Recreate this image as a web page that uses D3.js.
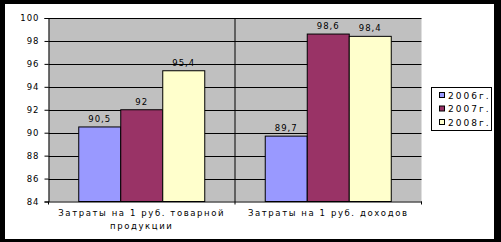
<!DOCTYPE html>
<html>
<head>
<meta charset="utf-8">
<script src="https://cdn.jsdelivr.net/npm/d3@7"></script>
<style>
  body { margin: 0; background: #000; }
  svg text { font-family: 'DejaVu Sans', sans-serif; font-size: 8.5px; letter-spacing: 1px; fill: #000; }
  svg .cat-label { letter-spacing: 1.6px; }
  svg .legend-label { font-size: 9px; letter-spacing: 2px; }
</style>
</head>
<body>
<svg id="chart" width="501" height="242"></svg>
<script>
const categories = ['Затраты на 1 руб. товарной продукции', 'Затраты на 1 руб. доходов']
const years = ['2006г.', '2007г.', '2008г.']
const values2006 = [90.5, 89.7]
const values2007 = [92, 98.6]
const values2008 = [95.4, 98.4]
const yTicks = [84, 86, 88, 90, 92, 94, 96, 98, 100]
const colors = ['#9999FF', '#993366', '#FFFFCC']

const series = [values2006, values2007, values2008]

const svg = d3.select('#chart')

// white chart area over the black frame
svg.append('rect')
  .attr('x', 5)
  .attr('y', 4)
  .attr('width', 489)
  .attr('height', 235)
  .attr('fill', '#fff')

const plot = { left: 48.5, right: 421.5, top: 18, bottom: 201.5 }

const x0 = d3.scaleBand()
  .domain(categories)
  .range([plot.left, plot.right])

const x1 = d3.scaleBand()
  .domain(years)
  .range([0, x0.bandwidth()])
  .paddingInner(0)
  .paddingOuter(0.72)

const y = d3.scaleLinear()
  .domain([84, 100])
  .range([plot.bottom, plot.top])

// plot background
svg.append('rect')
  .attr('x', plot.left)
  .attr('y', plot.top)
  .attr('width', plot.right - plot.left)
  .attr('height', plot.bottom - plot.top)
  .attr('fill', '#C0C0C0')

// horizontal gridlines
svg.append('g')
  .selectAll('line')
  .data(yTicks.slice(1))
  .join('line')
  .attr('x1', plot.left)
  .attr('x2', plot.right)
  .attr('y1', (d) => Math.round(y(d)) + 0.5)
  .attr('y2', (d) => Math.round(y(d)) + 0.5)
  .attr('stroke', '#000')

// vertical separators between categories
svg.append('g')
  .selectAll('line')
  .data(categories.slice(1))
  .join('line')
  .attr('x1', (d) => x0(d))
  .attr('x2', (d) => x0(d))
  .attr('y1', plot.top)
  .attr('y2', plot.bottom + 3)
  .attr('stroke', '#000')

// bars
const groups = svg.append('g')
  .selectAll('g')
  .data(categories)
  .join('g')
  .attr('transform', (d) => `translate(${x0(d)},0)`)

groups.selectAll('rect')
  .data((d, i) => years.map((yr, j) => ({ year: yr, value: series[j][i], color: colors[j] })))
  .join('rect')
  .attr('x', (d) => x1(d.year))
  .attr('y', (d) => y(d.value))
  .attr('width', x1.bandwidth())
  .attr('height', (d) => plot.bottom - y(d.value))
  .attr('fill', (d) => d.color)
  .attr('stroke', '#000')
  .attr('stroke-width', 1)

groups.selectAll('text')
  .data((d, i) => years.map((yr, j) => ({ year: yr, value: series[j][i] })))
  .join('text')
  .attr('x', (d) => x1(d.year) + x1.bandwidth() / 2)
  .attr('y', (d) => y(d.value) - 5)
  .attr('text-anchor', 'middle')
  .text((d) => String(d.value).replace('.', ','))

// y axis
const yAxis = svg.append('g')
  .attr('transform', `translate(${plot.left},0)`)
  .call(d3.axisLeft(y).tickValues(yTicks).tickSize(4).tickPadding(5))
yAxis.select('.domain').attr('stroke', '#000')
yAxis.selectAll('.tick line').attr('stroke', '#000')
yAxis.selectAll('text').attr('font-family', null).attr('font-size', null)

// x axis
const xAxis = svg.append('g')
  .attr('transform', `translate(0,${plot.bottom})`)
  .call(d3.axisBottom(x0).tickSize(0).tickPadding(0))
xAxis.select('.domain').attr('stroke', '#000')
xAxis.selectAll('text').attr('font-family', null).attr('font-size', null)
  .attr('class', 'cat-label')
  .attr('dy', null)
  .attr('y', 14.5)
  .call(wrap, 180)

// boundary ticks on category axis
svg.append('g')
  .selectAll('line')
  .data([plot.left, plot.right])
  .join('line')
  .attr('x1', (d) => d)
  .attr('x2', (d) => d)
  .attr('y1', plot.bottom)
  .attr('y2', plot.bottom + 3)
  .attr('stroke', '#000')

function wrap (text, width) {
  text.each(function () {
    const t = d3.select(this)
    const words = t.text().split(/\s+/)
    const yPos = t.attr('y')
    let line = []
    let lineNumber = 0
    let tspan = t.text(null).append('tspan').attr('x', 0).attr('y', yPos)
    for (const word of words) {
      line.push(word)
      tspan.text(line.join(' '))
      if (tspan.node().getComputedTextLength() > width && line.length > 1) {
        line.pop()
        tspan.text(line.join(' '))
        line = [word]
        lineNumber++
        tspan = t.append('tspan').attr('x', 0).attr('y', yPos).attr('dy', `${lineNumber * 13}px`).text(word)
      }
    }
  })
}

// legend
const legend = svg.append('g')
legend.append('rect')
  .attr('x', 431.5)
  .attr('y', 87.5)
  .attr('width', 60)
  .attr('height', 43)
  .attr('fill', '#fff')
  .attr('stroke', '#000')

const items = legend.selectAll('g')
  .data(years)
  .join('g')
  .attr('transform', (d, i) => `translate(439,${95.5 + i * 13.5})`)

items.append('rect')
  .attr('x', 0.5)
  .attr('y', -3)
  .attr('width', 5)
  .attr('height', 5)
  .attr('fill', (d, i) => colors[i])
  .attr('stroke', '#000')

items.append('text')
  .attr('class', 'legend-label')
  .attr('x', 9)
  .attr('y', 3)
  .text((d) => d)
</script>
</body>
</html>
